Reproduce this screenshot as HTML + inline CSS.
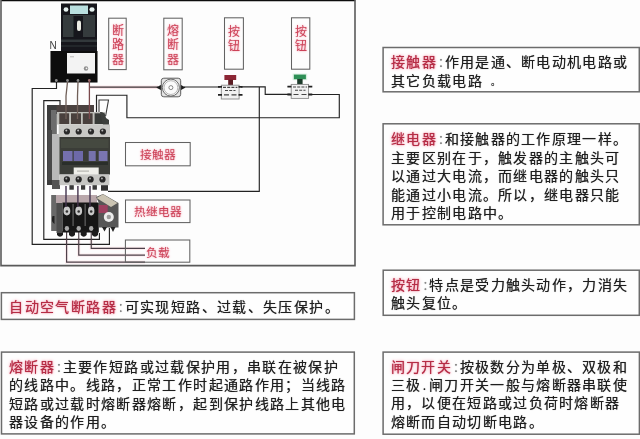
<!DOCTYPE html>
<html lang="zh-CN">
<head>
<meta charset="utf-8">
<title>电气元件说明</title>
<style>
html,body{margin:0;padding:0;}
body{width:640px;height:439px;position:relative;overflow:hidden;background:#fdfdfd;font-family:"Liberation Sans",sans-serif;color:#1c1c1c;}
#art{position:absolute;left:0;top:0;}
.t{position:absolute;white-space:nowrap;font-size:14px;line-height:19px;height:19px;letter-spacing:1.3px;color:#1e1e1e;text-shadow:0 0 0.7px rgba(30,30,30,0.75);filter:blur(0.3px);margin:0.5px 0 0 -0.5px;}
.l{letter-spacing:1.34px;}
.r{color:#b52d45;text-shadow:0 0 0.8px #c9506a,0 0 2.5px #f3a0b2,0 0 4px #f9ccd5;}
.c{color:#8a8a8a;display:inline-block;width:7.7px;text-align:center;letter-spacing:0;}
.lab{position:absolute;color:#cc4358;font-size:11.7px;line-height:14px;text-align:center;white-space:nowrap;text-shadow:0 0 1.5px #f0a0b0,0 0 3px #f9ccd5;filter:blur(0.3px);}
.v{font-size:12px;line-height:14.2px;width:18px;white-space:normal;}
#n{position:absolute;left:49.6px;top:39.8px;font-size:10px;line-height:12px;color:#3c3c3c;filter:blur(0.3px);}
</style>
</head>
<body>
<svg id="art" width="640" height="439" viewBox="0 0 640 439">
<defs>
<filter id="b5" x="-5%" y="-5%" width="110%" height="110%"><feGaussianBlur stdDeviation="0.55"/></filter>
<filter id="b3" x="-5%" y="-5%" width="110%" height="110%"><feGaussianBlur stdDeviation="0.35"/></filter>
</defs>

<!-- frame of the wiring diagram -->
<g filter="url(#b3)">
<path d="M1,0.6 H355.2" stroke="#111" stroke-width="1.3" fill="none"/>
<path d="M1,0 V265.6 H355 V0" stroke="#5a5a5a" stroke-width="1.6" fill="none"/>
</g>

<!-- wires -->
<g filter="url(#b3)" fill="none" stroke-linejoin="miter">
<!-- pink halo of the phase wire -->
<path d="M89.4,87.2 H158" stroke="#fae6e9" stroke-width="3.4"/>
<path d="M66.6,238 V262.1 H145 M78.75,238 V255.1 H145 M91.25,238 V248.4 H145" stroke="#fbecee" stroke-width="3.2"/>
<path d="M56.5,82 V88.5 H32.2 V244.4 H109.4 V228" stroke="#222" stroke-width="1.15"/>
<path d="M60,105 V100.6 H43.8 V239.4 H99.4 V233" stroke="#222" stroke-width="1.15"/>
<path d="M96.5,113 V95.2 H126.9 V117.7 H339.3 V94.5 H309" stroke="#242424" stroke-width="1.15"/>
<path d="M99,112 V100 H108.5 L105.6,116" stroke="#3a3a3a" stroke-width="1.1"/>
<path d="M290,94.4 H265.2 V86.9 H241" stroke="#242424" stroke-width="1.15"/>
<path d="M220,87 H184" stroke="#242424" stroke-width="1.15"/>
<path d="M259.3,87 V191.3 H108" stroke="#242424" stroke-width="1.15"/>
<path d="M89.4,87.2 H158" stroke="#3a3034" stroke-width="1.2"/>
<path d="M66.6,232 V262.1 H145 M78.75,232 V255.1 H145 M91.25,232 V248.4 H145" stroke="#4c4048" stroke-width="1.15"/>
</g>

<!-- circuit breaker -->
<g filter="url(#b5)">
<rect x="61" y="3.5" width="36" height="49" fill="#15181a"/>
<rect x="63" y="15" width="32" height="22" fill="#353b3d"/>
<rect x="61" y="39.5" width="36" height="2.5" fill="#33383a"/>
<rect x="61" y="45" width="36" height="2" fill="#23272a"/>
<rect x="70" y="5.5" width="18" height="8.5" fill="#b9dfdf"/>
<ellipse cx="66" cy="9.5" rx="2.4" ry="2.2" fill="#e6f1f0"/>
<ellipse cx="92" cy="9.5" rx="2.6" ry="2.2" fill="#e6f1f0"/>
<rect x="73.5" y="16" width="9.5" height="21" fill="#14181a"/>
<rect x="77" y="20.5" width="4" height="10.5" rx="2" fill="#ecece4"/>
<rect x="50.5" y="51" width="47" height="31.5" fill="#0b0b0b"/>
<rect x="67" y="53" width="28" height="20.5" fill="#f3f3f3"/>
<circle cx="86" cy="68.5" r="2.2" fill="#8e8e8e"/>
<circle cx="86.5" cy="68.3" r="0.9" fill="#f3f3f3"/>
<rect x="70" y="56" width="4" height="1.4" fill="#c9c9c9"/>
<circle cx="56.3" cy="80.5" r="1.4" fill="#8c8c8c"/>
<circle cx="67.5" cy="80.5" r="1.4" fill="#8c8c8c"/>
<circle cx="78" cy="80.5" r="1.4" fill="#8c8c8c"/>
<circle cx="89.3" cy="80.5" r="1.4" fill="#9a6c6c"/>
</g>

<!-- contactor -->
<g filter="url(#b5)">
<rect x="47" y="105" width="47" height="9" fill="#4b4240"/>
<rect x="47" y="105" width="9.5" height="80" fill="#3c3c3c"/>
<rect x="51" y="110" width="5.5" height="24" fill="#6c6c6c"/>
<rect x="52" y="134" width="7.5" height="48" fill="#b9b9b9"/>
<rect x="47.5" y="130" width="4.5" height="50" fill="#4a4a4a"/>
<rect x="52" y="180" width="8" height="9" fill="#555"/>
<rect x="57" y="112" width="48" height="12.5" fill="#bdbdb8"/>
<rect x="59.3" y="113.3" width="9.8" height="10.7" fill="#4a403d"/>
<rect x="71" y="113.3" width="10" height="10.7" fill="#4a403d"/>
<rect x="82.8" y="113.3" width="9.8" height="10.7" fill="#4a403d"/>
<rect x="94.6" y="113.3" width="10" height="10.7" fill="#383a38"/>
<path d="M100,112 q5,-1 6,6 l3,2 v5 h-6 z" fill="#3d403e"/>
<rect x="58.7" y="124.4" width="51.3" height="12.8" fill="#c9c9c6"/>
<circle cx="66.9" cy="131.5" r="3.1" fill="#2a2a2a"/><circle cx="66.3" cy="130.6" r="1" fill="#bbb"/>
<circle cx="78.7" cy="131.5" r="3.1" fill="#2a2a2a"/><circle cx="78.1" cy="130.6" r="1" fill="#bbb"/>
<circle cx="91" cy="131.5" r="3.1" fill="#2a2a2a"/><circle cx="90.4" cy="130.6" r="1" fill="#bbb"/>
<circle cx="102.9" cy="131.5" r="3.1" fill="#2a2a2a"/><circle cx="102.3" cy="130.6" r="1" fill="#bbb"/>
<rect x="59.4" y="137" width="50.6" height="37.6" fill="#3a3e38"/>
<rect x="61" y="139" width="47.5" height="9" fill="#44483f"/>
<rect x="63" y="151" width="9.5" height="10" fill="#7470ae"/>
<rect x="73.7" y="151" width="9.3" height="10" fill="#6d69a8"/>
<rect x="88.7" y="151" width="7" height="10" fill="#7672ad"/>
<rect x="98.7" y="151" width="8.8" height="10" fill="#7a76b2"/>
<rect x="62" y="162" width="46" height="3" fill="#2c2f2b"/>
<rect x="73.7" y="167.5" width="25" height="7.5" fill="#efefea"/>
<rect x="77" y="170.5" width="12" height="1.2" fill="#b5b5b0"/>
<rect x="59.4" y="174.4" width="50" height="10.8" fill="#c6c6c3"/>
<circle cx="66.9" cy="179.4" r="3.1" fill="#262626"/><circle cx="66.3" cy="178.5" r="1" fill="#aaa"/>
<circle cx="78.7" cy="179.4" r="3.1" fill="#262626"/><circle cx="78.1" cy="178.5" r="1" fill="#aaa"/>
<circle cx="90.6" cy="179.4" r="3.1" fill="#262626"/><circle cx="90" cy="178.5" r="1" fill="#aaa"/>
<circle cx="102.5" cy="179.4" r="3.1" fill="#262626"/><circle cx="101.9" cy="178.5" r="1" fill="#aaa"/>
<rect x="69.4" y="185.2" width="4.4" height="4.5" fill="#3a3a3a"/>
<rect x="81" y="185.2" width="4.2" height="4.5" fill="#3a3a3a"/>
<rect x="92.5" y="185.2" width="4.4" height="4.5" fill="#3a3a3a"/>
<rect x="101" y="185.2" width="7" height="5.5" fill="#333"/>
</g>
<!-- wires breaker → contactor (drawn over the contactor top) -->
<g filter="url(#b3)" fill="none">
<path d="M67.5,82 L66,96 V119 M78,82 L77.5,96 V119" stroke="#6f5f58" stroke-width="1.3"/>
<path d="M89.4,82 V119" stroke="#7a4a4c" stroke-width="1.3"/>
</g>

<!-- thermal relay -->
<g filter="url(#b5)">
<rect x="51.2" y="195" width="11.3" height="36" fill="#676767"/>
<path d="M52.5,216 q-2,5 2,8 v-8 z" fill="#222"/>
<rect x="56" y="195" width="41" height="8" fill="#b9a7ab"/>
<rect x="62.5" y="202.5" width="36.3" height="30" fill="#161616"/>
<path d="M57,231 v4 q3,3.5 6,0 v-4 z M69,231 v4 q3,3.5 6,0 v-4 z M80.7,231 v4 q3,3.5 6,0 v-4 z M92,231 v4 q3,3.5 6,0 v-4 z" fill="#1c1c1c"/>
<rect x="56.5" y="203" width="6" height="30" fill="#4e4e4e"/>
<rect x="72.3" y="204" width="1.6" height="22" fill="#505050"/>
<rect x="84.4" y="204" width="1.6" height="22" fill="#505050"/>
<ellipse cx="66.9" cy="211" rx="3.4" ry="4.4" fill="#c9c9c9"/>
<ellipse cx="78.7" cy="211" rx="3.4" ry="4.4" fill="#c9c9c9"/>
<ellipse cx="91.2" cy="211" rx="3.2" ry="4.4" fill="#c9c9c9"/>
<circle cx="66.9" cy="211.5" r="1.3" fill="#333"/>
<circle cx="78.7" cy="211.5" r="1.3" fill="#333"/>
<circle cx="91.2" cy="211.5" r="1.3" fill="#333"/>
<ellipse cx="66.9" cy="228.5" rx="2.2" ry="2.4" fill="#a9a9a9"/>
<ellipse cx="78.7" cy="228.5" rx="2.2" ry="2.4" fill="#a9a9a9"/>
<ellipse cx="91.2" cy="228.5" rx="2.2" ry="2.4" fill="#a9a9a9"/>
<path d="M96,197 L103,194 L118.5,203 V227.5 H99 V203 z" fill="#565656"/>
<path d="M96.5,198 L103,194.2 L117.5,203 L111,207 z" fill="#cbc4b3"/>
<rect x="98.7" y="205" width="9" height="8" fill="#9c3f5e"/>
<circle cx="108.8" cy="217" r="5" fill="#ececec"/>
<circle cx="108.8" cy="217" r="2.2" fill="#9a9a9a"/>
<path d="M102,227 l2.5,4.5 l2.5,-4.5 z M110.5,227 l2.5,5 l2.5,-5 z" fill="#222"/>
</g>

<!-- wires contactor → relay (drawn over the relay top) -->
<g filter="url(#b3)" fill="none">
<path d="M66,186 V207 M77.9,186 V207 M90,186 V207" stroke="#44334e" stroke-width="1.4"/>
</g>

<!-- fuse -->
<g filter="url(#b3)">
<path d="M156.2,87.5 l5,-2.8 v5.6 z M185.6,87.5 l-5,-2.8 v5.6 z" fill="#1c1c1c"/>
<rect x="161.3" y="78.2" width="19.4" height="18.6" rx="2.5" fill="#e4e4e4" stroke="#5e5e5e" stroke-width="1"/>
<circle cx="170.9" cy="87.6" r="8.5" fill="#fbfbfb" stroke="#5a5a5a" stroke-width="0.9"/>
<circle cx="170.9" cy="87.6" r="6.9" fill="none" stroke="#9a9a9a" stroke-width="0.7"/>
<circle cx="170.9" cy="87.6" r="2" fill="#fff" stroke="#7a7a7a" stroke-width="0.9"/>
</g>

<!-- red push button -->
<g filter="url(#b3)">
<rect x="224.4" y="75" width="11.8" height="5" fill="#8c2634"/>
<rect x="228.2" y="79.8" width="4.8" height="5.4" fill="#5a1a22"/>
<rect x="221.3" y="85.2" width="17.8" height="13.8" fill="#f2f2f2" stroke="#8b8b8b" stroke-width="0.9"/>
<path d="M223,87.4 H237.4 M225,90.5 H235.5" stroke="#444" stroke-width="1.1" stroke-dasharray="3 1.2"/>
<path d="M224,94.8 H229 M231.5,94.8 H236.5" stroke="#444" stroke-width="1.2"/>
<path d="M218,86.9 h4 M238.5,86.9 h4 M218,94.8 h4 M238.5,94.8 h4" stroke="#222" stroke-width="1.8"/>
</g>

<!-- green push button -->
<g filter="url(#b3)">
<rect x="292.6" y="73.6" width="14.6" height="6.6" fill="#d7eede"/>
<rect x="293.9" y="74.6" width="12" height="4.6" fill="#2f8f57"/>
<rect x="297.2" y="79" width="5.4" height="5.4" fill="#1d3a2a"/>
<rect x="291.2" y="84.4" width="17.4" height="14" fill="#f2f2f2" stroke="#8b8b8b" stroke-width="0.9"/>
<path d="M293,87 H307 M295,90.3 H305.5" stroke="#444" stroke-width="1.1" stroke-dasharray="3 1.2"/>
<path d="M293.5,94.5 H298.5 M301.5,94.5 H306.5" stroke="#444" stroke-width="1.2"/>
<path d="M287.4,86.6 h4 M308.3,86.6 h4 M287.4,94.5 h4 M308.3,94.5 h4" stroke="#222" stroke-width="1.8"/>
</g>

<!-- small label boxes inside diagram -->
<g filter="url(#b3)" fill="#fdfdfd" stroke="#626262" stroke-width="1.05">
<rect x="108.7" y="18.2" width="17.5" height="51.4"/>
<rect x="163.8" y="18.2" width="18.4" height="51.6"/>
<rect x="224.5" y="17.8" width="18.9" height="51.4"/>
<rect x="291.5" y="17.8" width="18.3" height="51.4"/>
<rect x="125.5" y="142.5" width="64.7" height="23.3"/>
<rect x="125.5" y="200" width="64.5" height="22.6"/>
<rect x="125.4" y="240" width="64.4" height="22.2" fill="none"/>
</g>

<!-- description boxes -->
<g filter="url(#b3)" fill="#fefefe" stroke="#6c6c6c" stroke-width="1.5">
<rect x="383.1" y="47.5" width="256.2" height="44.3"/>
<rect x="383.1" y="123.8" width="256.2" height="101"/>
<rect x="383.2" y="270.2" width="256.1" height="45.1"/>
<rect x="383.1" y="352.1" width="256.3" height="82.1"/>
<rect x="1.4" y="292.7" width="353" height="26.7"/>
<rect x="1.5" y="352.1" width="352.8" height="81.8"/>
</g>
</svg>

<div id="n">N</div>

<!-- vertical labels -->
<div class="lab v" style="left:108.7px;top:24.2px;">断<br>路<br>器</div>
<div class="lab v" style="left:164px;top:24.2px;">熔<br>断<br>器</div>
<div class="lab v" style="left:225px;top:26.2px;line-height:13.8px;">按<br>钮</div>
<div class="lab v" style="left:291.7px;top:26.2px;line-height:13.8px;">按<br>钮</div>
<!-- horizontal labels -->
<div class="lab" style="left:125.5px;top:148.2px;width:64.7px;">接触器</div>
<div class="lab" style="left:125.5px;top:204.6px;width:64.5px;">热继电器</div>
<div class="lab" style="left:145px;top:246.1px;width:26px;">负载</div>

<!-- right column descriptions -->
<div class="t" style="left:391.6px;top:52.4px;"><span class="r">接触器</span><span class="c">:</span>作用是通、断电动机电路或</div>
<div class="t" style="left:391.6px;top:71.2px;">其它负载电路<span style="font-size:9px;margin-left:8.5px;position:relative;top:-1px;">。</span></div>

<div class="t" style="left:391.6px;top:129.4px;"><span class="r">继电器</span><span class="c">:</span>和接触器的工作原理一样。</div>
<div class="t" style="left:391.6px;top:148.1px;">主要区别在于，触发器的主触头可</div>
<div class="t" style="left:391.6px;top:166.6px;">以通过大电流，而继电器的触头只</div>
<div class="t" style="left:391.6px;top:185.1px;">能通过小电流。所以，继电器只能</div>
<div class="t" style="left:391.6px;top:203.4px;">用于控制电路中。</div>

<div class="t" style="left:391.6px;top:275.3px;"><span class="r">按钮</span><span class="c">:</span>特点是受力触头动作，力消失</div>
<div class="t" style="left:391.6px;top:293.6px;">触头复位。</div>

<div class="t" style="left:391.4px;top:357.2px;"><span class="r">闸刀开关</span><span class="c">:</span>按极数分为单极、双极和</div>
<div class="t" style="left:391.4px;top:375.6px;">三极<span class="c" style="color:#1e1e1e;text-align:left;text-indent:1px;">.</span>闸刀开关一般与熔断器串联使</div>
<div class="t" style="left:391.4px;top:393.9px;">用，以便在短路或过负荷时熔断器</div>
<div class="t" style="left:391.4px;top:412.4px;">熔断而自动切断电路。</div>

<!-- left column descriptions -->
<div class="t l" style="left:9.8px;top:297.8px;letter-spacing:1.38px;"><span class="r">自动空气断路器</span><span class="c">:</span>可实现短路、过载、失压保护。</div>

<div class="t l" style="left:9.6px;top:357px;"><span class="r">熔断器</span><span class="c">:</span>主要作短路或过载保护用，串联在被保护</div>
<div class="t l" style="left:9.6px;top:375.8px;">的线路中。线路，正常工作时起通路作用；当线路</div>
<div class="t l" style="left:9.6px;top:394.4px;">短路或过载时熔断器熔断，起到保护线路上其他电</div>
<div class="t l" style="left:9.6px;top:412.5px;">器设备的作用。</div>
</body>
</html>
